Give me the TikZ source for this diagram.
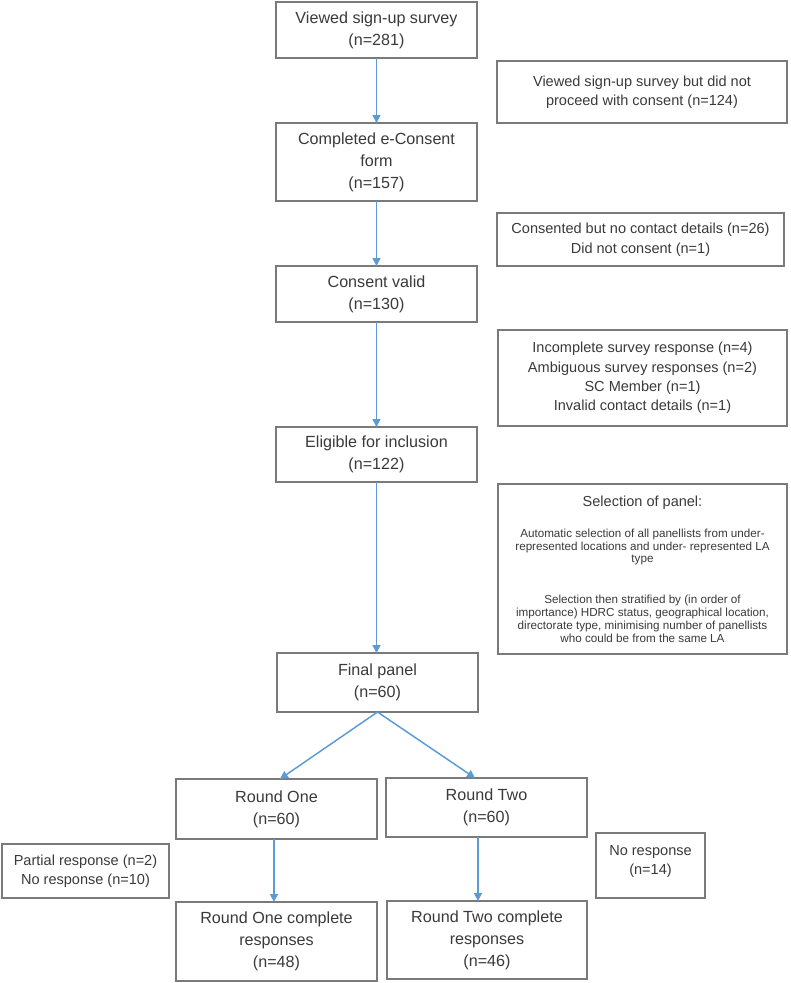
\documentclass[tikz,border=0pt]{standalone}
\usepackage{fontspec}
\setmainfont{Liberation Sans}
\usetikzlibrary{arrows.meta,calc}
\definecolor{boxline}{HTML}{7A7A7A}
\definecolor{txt}{HTML}{3A3A3A}
\definecolor{arrowblue}{HTML}{5B9BD5}
\newcommand\fmain{\fontsize{12.1}{16.5}\selectfont}
\newcommand\fright{\fontsize{10.9}{14.6}\selectfont}
\newcommand\fsmall{\fontsize{8.75}{9.6}\selectfont}
\begin{document}
\begin{tikzpicture}[x=0.75pt,y=-0.75pt,
  pbox/.style={draw=boxline,line width=0.9pt,inner sep=0pt,outer sep=0pt,
    align=center,text=txt,fill=white},
  mainbox/.style={pbox,font=\fmain,minimum width=150.75pt},
  sidebox/.style={pbox,font=\fright},
  arr/.style={draw=arrowblue,line width=1.1pt,-{Triangle[width=6pt,length=6pt]}}]
\useasboundingbox[fill=white] (0,0) rectangle (790,983);

% main column
\node[mainbox,minimum height=42pt] (A) at (376.5,30) {Viewed sign-up survey\\(n=281)};
\node[mainbox,minimum height=58.5pt] (B) at (376.5,162) {Completed e-Consent\\form\\(n=157)};
\node[mainbox,minimum height=42pt] (C) at (376.5,294) {Consent valid\\(n=130)};
\node[mainbox,minimum height=41.25pt] (D) at (376.5,454.5) {Eligible for inclusion\\(n=122)};
\node[mainbox,minimum height=44.25pt] (E) at (377.5,682.5) {Final panel\\(n=60)};
\node[mainbox,minimum height=45pt] (F1) at (276.5,809) {Round One\\(n=60)};
\node[mainbox,minimum height=44.25pt] (F2) at (486.5,807.5) {Round Two\\(n=60)};
\node[mainbox,minimum height=59.25pt] (G1) at (276.5,941.5) {Round One complete\\responses\\(n=48)};
\node[mainbox,minimum width=150pt,minimum height=58.5pt] (G2) at (487,940) {Round Two complete\\responses\\(n=46)};

% side boxes
\node[sidebox,minimum width=217.5pt,minimum height=46.5pt] (R1) at (642,92)
  {Viewed sign-up survey but did not\\proceed with consent (n=124)};
\node[sidebox,minimum width=215.25pt,minimum height=39.75pt] (R2) at (640.5,239.5)
  {Consented but no contact details (n=26)\\Did not consent (n=1)};
\node[sidebox,minimum width=216.75pt,minimum height=72pt] (R3) at (642.5,378)
  {Incomplete survey response (n=4)\\Ambiguous survey responses (n=2)\\SC Member (n=1)\\Invalid contact details (n=1)};
\node[pbox,font=\fsmall,minimum width=216.75pt,minimum height=127.5pt] (R4) at (642.5,569)
  {{\fright Selection of panel:}\\[13.6pt]
   Automatic selection of all panellists from under-\\
   represented locations and under- represented LA\\
   type\\[21pt]
   Selection then stratified by (in order of\\
   importance) HDRC status, geographical location,\\
   directorate type, minimising number of panellists\\
   who could be from the same LA};
\node[sidebox,minimum width=125.25pt,minimum height=40.5pt] (P1) at (85.5,871)
  {Partial response (n=2)\\No response (n=10)};
\node[sidebox,minimum width=81.75pt,minimum height=48.75pt] (P2) at (650.5,865.5)
  {No response\\(n=14)\\[-6pt]\mbox{}};

% connectors
\draw[arr] (A.south) -- (A.south |- B.north);
\draw[arr] (B.south) -- (B.south |- C.north);
\draw[arr] (C.south) -- (C.south |- D.north);
\draw[arr] (D.south) -- (D.south |- E.north);
\draw[arr] (E.south) -- ([xshift=2.6pt]F1.north);
\draw[arr] (E.south) -- ([xshift=-8.6pt]F2.north);
\draw[arr] ([xshift=-1.9pt]F1.south) -- ([xshift=-1.9pt]F1.south |- G1.north);
\draw[arr] ([xshift=-6.4pt]F2.south) -- ([xshift=-6.4pt]F2.south |- G2.north);
\end{tikzpicture}
\end{document}
